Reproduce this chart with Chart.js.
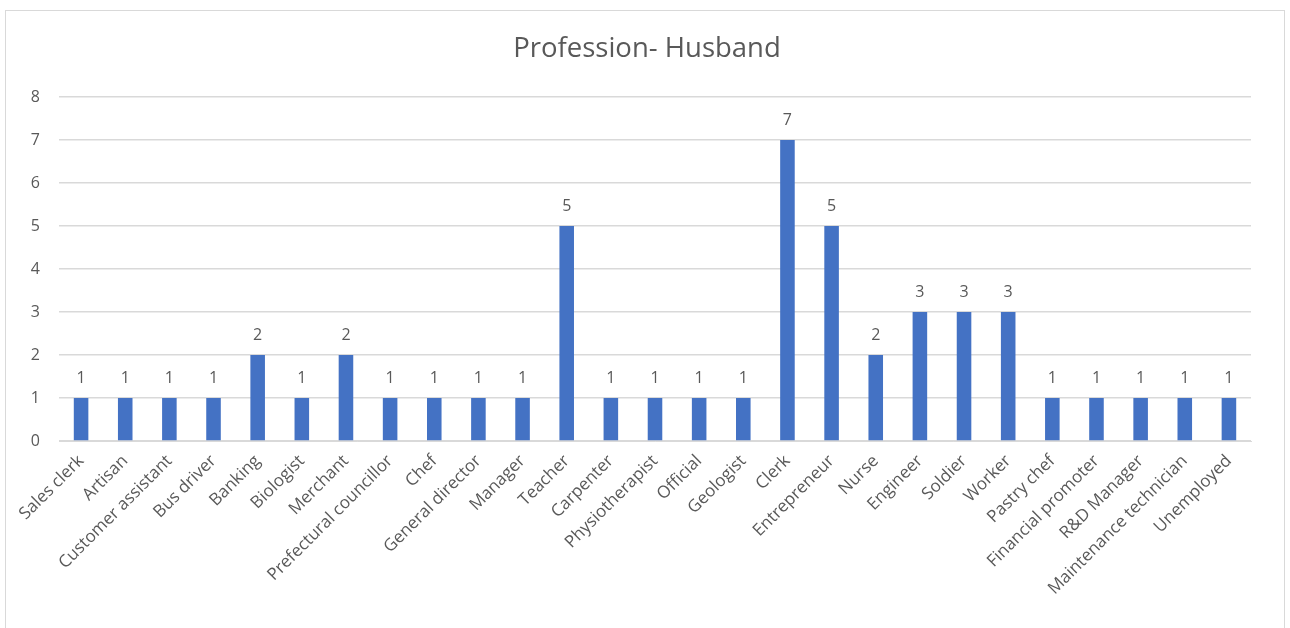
<!DOCTYPE html>
<html>
<head>
<meta charset="utf-8">
<script src="https://cdn.jsdelivr.net/npm/chart.js@4.4.1/dist/chart.umd.min.js"></script>
<style>
  body { margin: 0; background: #fff; }
  #frame { position: absolute; left: 5px; top: 10px; width: 1280px; height: 640px; border: 1px solid #d9d9d9; box-sizing: border-box; }
  #wrap { position: absolute; left: 0; top: 0; width: 1290px; height: 628px; }
</style>
</head>
<body>
<div id="frame"></div>
<div id="wrap"><canvas id="myChart"></canvas></div>
<script>
const professions = ["Sales clerk", "Artisan", "Customer assistant", "Bus driver", "Banking", "Biologist",
  "Merchant", "Prefectural councillor", "Chef", "General director", "Manager", "Teacher", "Carpenter",
  "Physiotherapist", "Official", "Geologist", "Clerk", "Entrepreneur", "Nurse", "Engineer", "Soldier",
  "Worker", "Pastry chef", "Financial promoter", "R&D Manager", "Maintenance technician", "Unemployed"];
const counts = [1, 1, 1, 1, 2, 1, 2, 1, 1, 1, 1, 5, 1, 1, 1, 1, 7, 5, 2, 3, 3, 3, 1, 1, 1, 1, 1];
const yTicks = [0, 1, 2, 3, 4, 5, 6, 7, 8];
const chartTitle = "Profession- Husband";

const textColor = "#595959";
const barColor = "#4472c4";
const fontName = "'Open Sans', sans-serif";

// draw the value above each bar
const barLabels = {
  id: "barLabels",
  afterDatasetsDraw(chart) {
    const ctx = chart.ctx;
    const meta = chart.getDatasetMeta(0);
    ctx.save();
    ctx.fillStyle = textColor;
    ctx.font = "16px " + fontName;
    ctx.textAlign = "center";
    ctx.textBaseline = "alphabetic";
    meta.data.forEach(function (bar, i) {
      ctx.fillText(counts[i], bar.x, bar.y - 15);
    });
    ctx.restore();
  }
};

// title centred on the whole canvas, like the excel chart
const centerTitle = {
  id: "centerTitle",
  afterDraw(chart) {
    const ctx = chart.ctx;
    ctx.save();
    ctx.fillStyle = textColor;
    ctx.font = "27.5px " + fontName;
    ctx.textAlign = "center";
    ctx.textBaseline = "alphabetic";
    ctx.fillText(chartTitle, chart.width / 2 + 2, 57);
    ctx.restore();
  }
};

new Chart("myChart", {
  type: "bar",
  data: {
    labels: professions,
    datasets: [
      {
        data: counts,
        backgroundColor: barColor,
        barPercentage: 0.33,
        categoryPercentage: 1,
      },
    ],
  },
  plugins: [barLabels, centerTitle],
  options: {
    responsive: true,
    maintainAspectRatio: false,
    animation: false,
    layout: { padding: { left: 0, right: 39, top: 97, bottom: 0 } },
    plugins: {
      legend: { display: false },
      tooltip: { enabled: false },
      title: { display: false },
    },
    scales: {
      x: {
        grid: { display: false },
        border: { display: true, color: "#d9d9d9" },
        ticks: {
          color: textColor,
          font: { family: fontName, size: 17 },
          minRotation: 45,
          maxRotation: 45,
          autoSkip: false,
          padding: 2,
        },
        afterFit(scale) { scale.height = 187; },
      },
      y: {
        min: 0,
        max: 8,
        afterBuildTicks(scale) { scale.ticks = yTicks.map(v => ({ value: v })); },
        grid: { color: "#d9d9d9", lineWidth: 1.5, drawTicks: false },
        border: { display: false },
        ticks: {
          color: textColor,
          font: { family: fontName, size: 16 },
          padding: 19,
        },
        afterFit(scale) { scale.width = 59; },
      },
    },
  },
});
</script>
</body>
</html>
